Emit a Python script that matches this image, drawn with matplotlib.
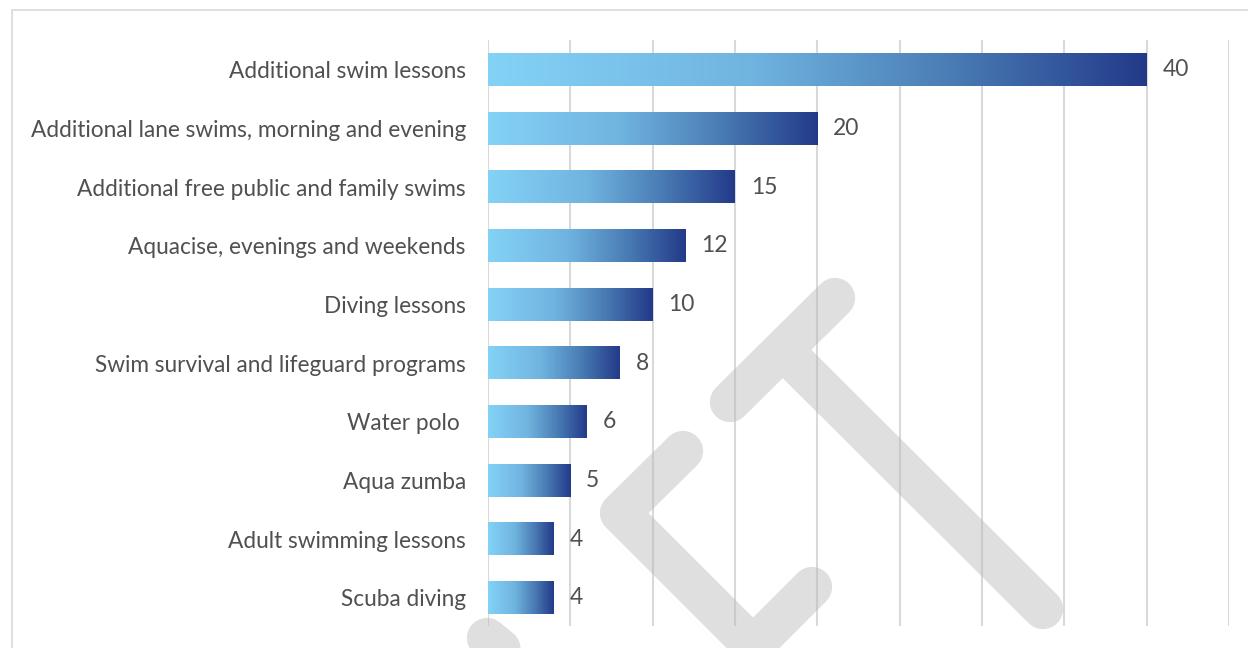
import numpy as np
import matplotlib
matplotlib.use('Agg')
from matplotlib import pyplot as plt
from matplotlib.colors import LinearSegmentedColormap
from matplotlib.path import Path
from matplotlib.patches import PathPatch, Rectangle

plt.rcParams['font.family'] = ['Lato', 'DejaVu Sans']

# data, top to bottom
programs = [
  'Additional swim lessons',
  'Additional lane swims, morning and evening',
  'Additional free public and family swims',
  'Aquacise, evenings and weekends',
  'Diving lessons',
  'Swim survival and lifeguard programs',
  'Water polo ',
  'Aqua zumba',
  'Adult swimming lessons',
  'Scuba diving',
]
votes = [40, 20, 15, 12, 10, 8, 6, 5, 4, 4]

grad = LinearSegmentedColormap.from_list(
  'swim', [(0.0, '#84d2f6'), (0.4, '#70b4e0'), (0.7, '#4a7db5'), (1.0, '#233a89')])

W, H = 1248, 648
fig = plt.figure(figsize=(W / 100, H / 100), dpi=100)

# light frame around the chart
fig.patches.append(Rectangle((12 / W, -0.1), 1.2, 1 - 10 / H + 0.1,
                             transform=fig.transFigure, fill=False,
                             edgecolor='#d9d9d9', linewidth=1.2))

ax = fig.add_axes([488 / W, 1 - 626 / H, (1229 - 488) / W, (626 - 40) / H])

bar_h = 0.55
ypos = np.arange(len(programs))
g = np.linspace(0, 1, 256).reshape(1, -1)
for y, v in zip(ypos, votes):
  ax.imshow(g, cmap=grad, aspect='auto', interpolation='bilinear',
            extent=[0, v, y + bar_h / 2, y - bar_h / 2], zorder=3)
  ax.text(v + 0.95, y, str(v), va='center', ha='left', fontsize=16.5,
          color='#505050', zorder=4)

ax.set_xlim(0, 45)
ax.set_ylim(9.48, -0.51)
ax.set_xticks(np.arange(0, 46, 5))
ax.xaxis.grid(True, color='#d9d9d9', linewidth=1.5, zorder=0)
ax.set_axisbelow(True)
ax.tick_params(axis='x', length=0, labelbottom=False)
ax.set_yticks(ypos)
ax.set_yticklabels(programs, fontsize=16.3, color='#505050')
ax.tick_params(axis='y', length=0, pad=16)
for s in ax.spines.values():
  s.set_visible(False)

# grey watermark drawn across the chart
def fig_pt(x, y):
  return (x / W, 1 - y / H)

strokes = [
  [(730, 402), (835, 298)],
  [(783, 350), (1043, 609)],
  [(683, 451), (620, 513), (753, 646), (812, 587)],
  [(487, 638), (600, 730)],
]
verts, codes = [], []
for st in strokes:
  for i, p in enumerate(st):
    verts.append(fig_pt(*p))
    codes.append(Path.MOVETO if i == 0 else Path.LINETO)
wm = PathPatch(Path(verts, codes), transform=fig.transFigure, fill=False,
               edgecolor='#b8b8b8', alpha=0.45, linewidth=29,
               capstyle='round', joinstyle='round', zorder=10)
fig.patches.append(wm)

plt.savefig('out.png', dpi=100)
plt.close()
